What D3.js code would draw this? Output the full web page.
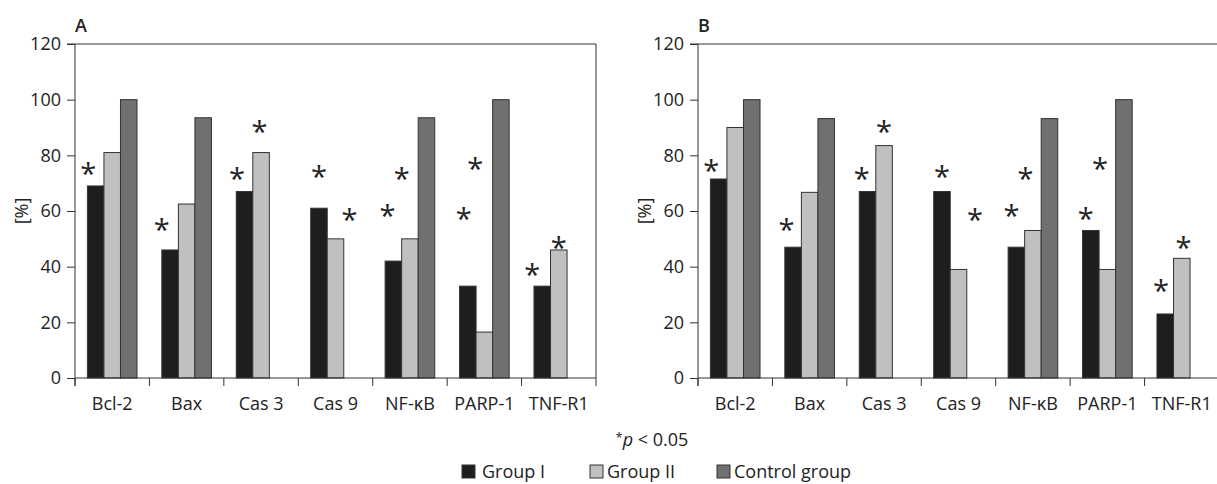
<!DOCTYPE html>
<html>
<head>
<meta charset="utf-8">
<script src="https://cdn.jsdelivr.net/npm/d3@7"></script>
<style>
  body { margin: 0; background: #fff; }
  text { font-family: "Open Sans", sans-serif; fill: #222; }
  .axis path, .axis line { stroke: #333; }
</style>
</head>
<body>
<svg id="chart" width="1217" height="484"></svg>
<script>
const categories = ['Bcl-2', 'Bax', 'Cas 3', 'Cas 9', 'NF-κB', 'PARP-1', 'TNF-R1'];
const series = ['Group I', 'Group II', 'Control group'];
const colors = ['#1e1e1e', '#c0c0c0', '#707070'];
const yTicks = [0, 20, 40, 60, 80, 100, 120];

// panel A values (%)
const groupIA = [69, 46, 67, 61, 42, 33, 33];
const groupIIA = [81, 62.5, 81, 50, 50, 16.5, 46];
const controlA = [100, 93.5, 0, 0, 93.5, 100, 0];

// panel B values (%)
const groupIB = [71.5, 47, 67, 67, 47, 53, 23];
const groupIIB = [90, 66.7, 83.5, 39, 53, 39, 43];
const controlB = [100, 93.2, 0, 0, 93.2, 100, 0];

// significance marks: [category, series, level (%), shift in bar widths]
const starsA = [
    ['Bcl-2', 0, 75.8, -0.45], ['Bax', 0, 55.7, -0.5], ['Cas 3', 0, 74, -0.45],
    ['Cas 3', 1, 90.9, -0.1], ['Cas 9', 0, 74.7, 0], ['Cas 9', 1, 59.3, 0.85],
    ['NF-κB', 0, 60.7, -0.35], ['NF-κB', 1, 74, -0.5], ['PARP-1', 0, 59.6, -0.25],
    ['PARP-1', 1, 77.6, -0.55], ['TNF-R1', 0, 39.5, -0.6], ['TNF-R1', 1, 49, 0]
];
const starsB = [
    ['Bcl-2', 0, 76.8, -0.45], ['Bax', 0, 55.6, -0.4], ['Cas 3', 0, 73.9, -0.35],
    ['Cas 3', 1, 90.9, 0], ['Cas 9', 0, 74.7, 0], ['Cas 9', 1, 59.3, 1.0],
    ['NF-κB', 0, 60.7, -0.3], ['NF-κB', 1, 74.1, -0.45], ['PARP-1', 0, 59.6, -0.3],
    ['PARP-1', 1, 77.6, -0.45], ['TNF-R1', 0, 33.8, -0.25], ['TNF-R1', 1, 49, 0.1]
];

const svg = d3.select('#chart');
const marginTop = 44, height = 334, width = 521;

function panel(left, label, values, stars) {
    const g = svg.append('g').attr('transform', `translate(${left}, ${marginTop})`);
    const x = d3.scaleBand().domain(categories).range([0, width]);
    const x1 = d3.scaleBand().domain(d3.range(series.length)).range([0, x.bandwidth()]).paddingOuter(0.75);
    const y = d3.scaleLinear().domain([0, 120]).range([height, 0]);

    // frame: top line and right line
    g.append('line').attr('x1', -8).attr('x2', width).attr('y1', 0).attr('y2', 0)
        .attr('stroke', '#333');
    g.append('line').attr('x1', width).attr('x2', width).attr('y1', 0).attr('y2', height)
        .attr('stroke', '#333');

    const rows = categories.map((c, i) => ({ c, v: values.map(s => s[i]) }));
    g.selectAll('.grp')
        .data(rows)
        .enter().append('g')
        .attr('transform', d => `translate(${x(d.c)}, 0)`)
        .selectAll('rect')
        .data(d => d.v.map((v, k) => ({ v, k })).filter(b => b.v > 0))
        .enter().append('rect')
        .attr('x', d => x1(d.k))
        .attr('y', d => y(d.v))
        .attr('width', x1.bandwidth())
        .attr('height', d => height - y(d.v))
        .attr('fill', d => colors[d.k])
        .attr('stroke', '#333')
        .attr('stroke-width', 1);

    g.append('g')
        .attr('class', 'axis')
        .call(d3.axisLeft(y).tickValues(yTicks).tickSize(8).tickPadding(6))
        .call(a => a.select('.domain').attr('d', `M0,0V${height + 8}`))
        .selectAll('text').style('font-size', '18px').attr('fill', '#222');

    // category boundary ticks on x axis
    const xa = g.append('g').attr('class', 'axis').attr('transform', `translate(0, ${height})`);
    xa.append('line').attr('x1', 0).attr('x2', width).attr('stroke', '#333');
    xa.selectAll('.tk')
        .data(d3.range(categories.length + 1))
        .enter().append('line')
        .attr('x1', i => i * x.step()).attr('x2', i => i * x.step())
        .attr('y1', 0).attr('y2', 8).attr('stroke', '#333');
    xa.selectAll('.lbl')
        .data(categories)
        .enter().append('text')
        .attr('x', d => x(d) + x.bandwidth() / 2)
        .attr('y', 32)
        .attr('text-anchor', 'middle')
        .style('font-size', '18px')
        .text(d => d);

    g.selectAll('.star')
        .data(stars)
        .enter().append('text')
        .attr('x', d => x(d[0]) + x1(d[1]) + x1.bandwidth() * (0.5 + d[3]))
        .attr('y', d => y(d[2]))
        .attr('dy', '0.58em')
        .attr('text-anchor', 'middle')
        .style('font-size', '29px')
        .text('*');

    g.append('text')
        .attr('x', 0).attr('y', -12)
        .style('font-size', '18px').style('font-weight', 600)
        .text(label);

    g.append('text')
        .attr('transform', `translate(${-53}, ${height / 2}) rotate(-90)`)
        .attr('text-anchor', 'middle')
        .attr('dy', '0.35em')
        .style('font-size', '18px')
        .text('[%]');
}

panel(75, 'A', [groupIA, groupIIA, controlA], starsA);
panel(698, 'B', [groupIB, groupIIB, controlB], starsB);

// footnote
const note = svg.append('text').attr('x', 652).attr('y', 446)
    .attr('text-anchor', 'middle').style('font-size', '18px');
note.append('tspan').attr('baseline-shift', '30%').style('font-size', '13px').text('*');
note.append('tspan').style('font-style', 'italic').text('p');
note.append('tspan').text(' < 0.05');

// legend
const legendX = [462, 590, 717];
const lg = svg.selectAll('.leg')
    .data(series)
    .enter().append('g')
    .attr('transform', (d, i) => `translate(${legendX[i]}, 465)`);
lg.append('rect').attr('width', 13).attr('height', 13)
    .attr('fill', (d, i) => colors[i]).attr('stroke', '#333');
lg.append('text').attr('x', (d, i) => i === 0 ? 20 : 17).attr('y', 13)
    .style('font-size', '18px').text(d => d);
</script>
</body>
</html>
